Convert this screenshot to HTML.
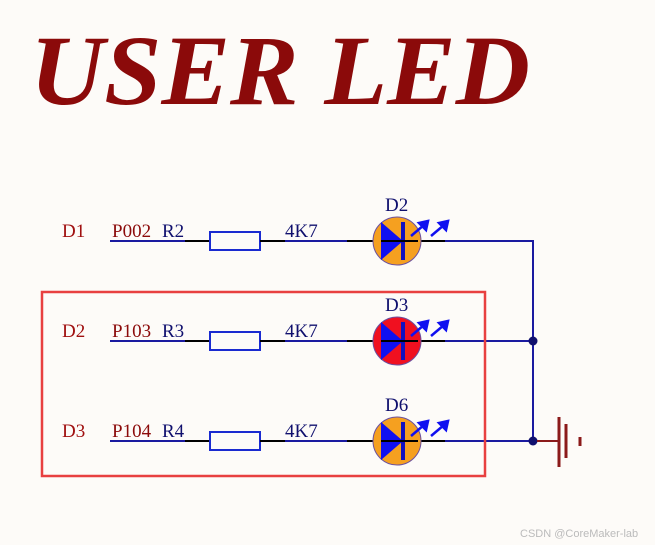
<!DOCTYPE html>
<html><head><style>body{margin:0;background:#fdfbf8;}svg{display:block}</style></head><body>
<svg width="655" height="545" viewBox="0 0 655 545" xmlns="http://www.w3.org/2000/svg">
<rect width="655" height="545" fill="#fdfbf8"/>
<text x="30" y="104" font-family="Liberation Serif" font-weight="bold" font-style="italic" font-size="100" fill="#8b0a0a" textLength="500" lengthAdjust="spacingAndGlyphs">USER LED</text>
<g font-family="Liberation Serif" font-size="19">
<g id="r1">
<text x="62" y="237" fill="#a01010">D1</text>
<text x="112" y="237" fill="#8b0a0a">P002</text>
<text x="162" y="237" fill="#10106e">R2</text>
<text x="285" y="237" fill="#10106e">4K7</text>
<text x="385" y="211" fill="#10106e">D2</text>
</g>
<text x="62" y="337" fill="#a01010">D2</text>
<text x="112" y="337" fill="#8b0a0a">P103</text>
<text x="162" y="337" fill="#10106e">R3</text>
<text x="285" y="337" fill="#10106e">4K7</text>
<text x="385" y="311" fill="#10106e">D3</text>
<text x="62" y="437" fill="#a01010">D3</text>
<text x="112" y="437" fill="#8b0a0a">P104</text>
<text x="162" y="437" fill="#10106e">R4</text>
<text x="285" y="437" fill="#10106e">4K7</text>
<text x="385" y="411" fill="#10106e">D6</text>
</g>
<defs>
<g id="row">
<line x1="110" y1="0" x2="185" y2="0" stroke="#1a1aa0" stroke-width="2"/>
<line x1="185" y1="0" x2="210" y2="0" stroke="#000" stroke-width="2"/>
<rect x="210" y="-9" width="50" height="18" fill="none" stroke="#1a2ad0" stroke-width="2"/>
<line x1="260" y1="0" x2="285" y2="0" stroke="#000" stroke-width="2"/>
<line x1="285" y1="0" x2="347" y2="0" stroke="#1a1aa0" stroke-width="2"/>
<line x1="347" y1="0" x2="445" y2="0" stroke="#000" stroke-width="2"/>
<line x1="445" y1="0" x2="533" y2="0" stroke="#1a1aa0" stroke-width="2"/>
</g>
<g id="led">
<polygon points="381,-19 381,19 403,0" fill="#1010f0"/>
<rect x="401" y="-19" width="4" height="38" fill="#1010c0"/>
<line x1="381" y1="0" x2="418" y2="0" stroke="#000" stroke-width="2"/>
<g stroke="#1010f0" stroke-width="2.5" fill="#1010f0">
<line x1="411" y1="-5" x2="424" y2="-16"/><polygon points="428,-20 419,-18 426,-11" />
<line x1="431" y1="-5" x2="444" y2="-16"/><polygon points="448,-20 439,-18 446,-11" />
</g>
</g>
</defs>
<use href="#row" y="241"/><use href="#row" y="341"/><use href="#row" y="441"/>
<circle cx="397" cy="241" r="24" fill="#f5a020" stroke="#6a50a0" stroke-width="1"/>
<circle cx="397" cy="341" r="24" fill="#f01020" stroke="#6a50a0" stroke-width="1"/>
<circle cx="397" cy="441" r="24" fill="#f5a020" stroke="#6a50a0" stroke-width="1"/>
<use href="#led" y="241"/><use href="#led" y="341"/><use href="#led" y="441"/>
<line x1="533" y1="240" x2="533" y2="441" stroke="#1a1aa0" stroke-width="2"/>
<circle cx="533" cy="341" r="4.5" fill="#10106e"/>
<circle cx="533" cy="441" r="4.5" fill="#10106e"/>
<line x1="537" y1="441" x2="559" y2="441" stroke="#8b1a1a" stroke-width="2"/>
<line x1="559" y1="417" x2="559" y2="467" stroke="#8b1a1a" stroke-width="3"/>
<line x1="566" y1="424" x2="566" y2="458" stroke="#8b1a1a" stroke-width="3"/>
<line x1="580" y1="437" x2="580" y2="446" stroke="#8b1a1a" stroke-width="3"/>
<rect x="42" y="292" width="443" height="184" fill="none" stroke="#e84040" stroke-width="2.5"/>
<text x="520" y="537" font-family="Liberation Sans" font-size="11" fill="#bbb">CSDN @CoreMaker-lab</text>
</svg>
</body></html>
